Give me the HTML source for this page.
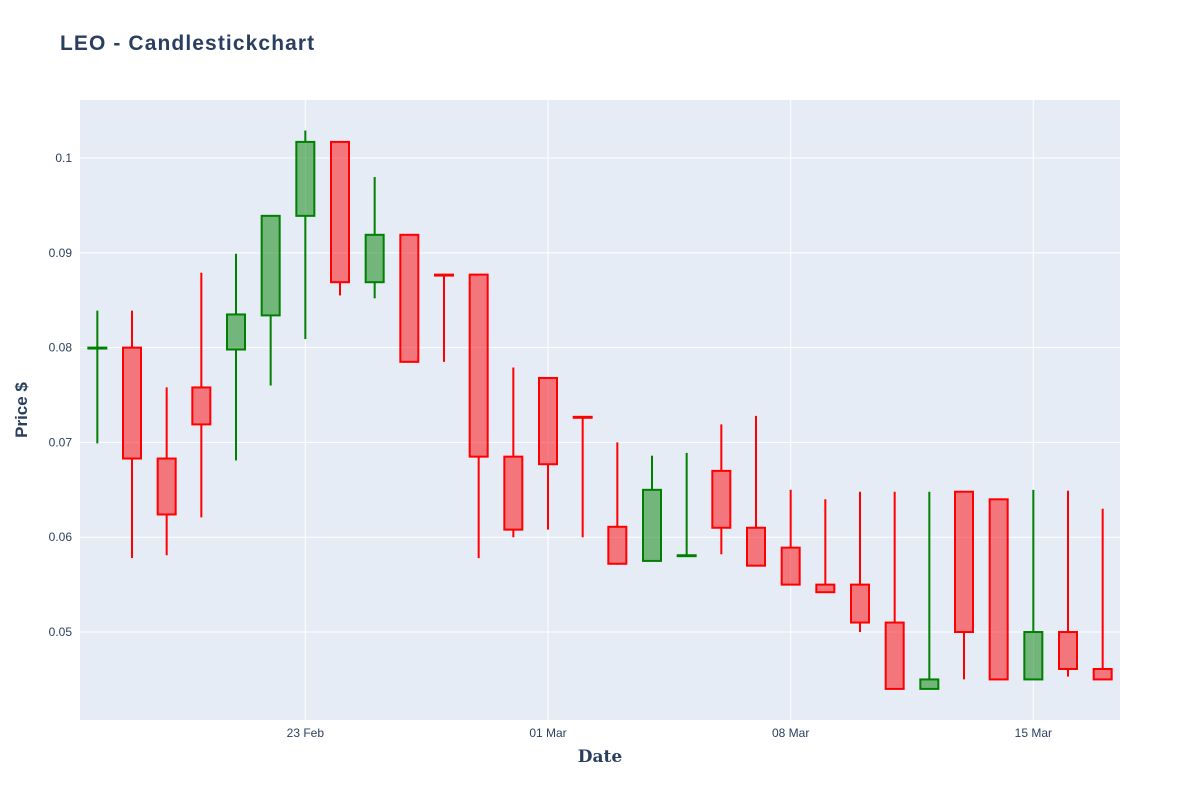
<!DOCTYPE html>
<html><head><meta charset="utf-8"><style>
body{margin:0;background:#fff;}
svg{display:block;font-family:"Liberation Sans",sans-serif;}
</style></head><body>
<svg id="chart" width="1200" height="800">
<rect x="0" y="0" width="1200" height="800" fill="#fff"/>
<rect x="80" y="100" width="1040" height="620" fill="#e5ecf6"/>
<g id="grid"></g>
<g id="marks"></g>
<g id="ticks"></g>
<text x="60" y="50" font-size="21" font-weight="bold" fill="#2a3f5f" letter-spacing="1.1">LEO - Candlestickchart</text>
<text x="600" y="762" font-size="17" font-weight="bold" fill="#2a3f5f" text-anchor="middle" font-family="DejaVu Serif, serif">Date</text>
<text x="27" y="410" font-size="17" font-weight="bold" fill="#2a3f5f" text-anchor="middle" transform="rotate(-90 27 410)">Price $</text>
</svg>
<script>
const opens  = [0.0799,0.0800,0.0683,0.0758,0.0798,0.0834,0.0939,0.1017,0.0869,0.0919,0.0877,0.0877,0.0685,0.0768,0.0727,0.0611,0.0575,0.0580,0.0670,0.0610,0.0589,0.0550,0.0550,0.0510,0.0440,0.0648,0.0640,0.0450,0.0500,0.0461];
const highs  = [0.0839,0.0839,0.0758,0.0879,0.0899,0.0939,0.1029,0.1017,0.0980,0.0919,0.0877,0.0877,0.0779,0.0768,0.0727,0.0700,0.0686,0.0689,0.0719,0.0728,0.0650,0.0640,0.0648,0.0648,0.0648,0.0648,0.0640,0.0650,0.0649,0.0630];
const lows   = [0.0699,0.0578,0.0581,0.0621,0.0681,0.0760,0.0809,0.0855,0.0852,0.0785,0.0785,0.0578,0.0600,0.0608,0.0600,0.0571,0.0575,0.0580,0.0582,0.0570,0.0550,0.0542,0.0500,0.0440,0.0440,0.0450,0.0450,0.0450,0.0453,0.0450];
const closes = [0.0800,0.0683,0.0624,0.0719,0.0835,0.0939,0.1017,0.0869,0.0919,0.0785,0.0876,0.0685,0.0608,0.0677,0.0726,0.0572,0.0650,0.0581,0.0610,0.0570,0.0550,0.0542,0.0510,0.0440,0.0450,0.0500,0.0450,0.0500,0.0461,0.0450];
const yTicks = [0.05,0.06,0.07,0.08,0.09,0.1];
const yTickLabels = ["0.05","0.06","0.07","0.08","0.09","0.1"];
const xTickIdx = [6,13,20,27];
const xTickLabels = ["23 Feb","01 Mar","08 Mar","15 Mar"];

const NS="http://www.w3.org/2000/svg";
const L=80,R=1120,T=100,B=720;
const yMin=0.04072,yMax=0.10612,xMin=-0.5,xMax=29.5;
const xs=i=>L+(i-xMin)/(xMax-xMin)*(R-L);
const ys=v=>B-(v-yMin)/(yMax-yMin)*(B-T);
function mk(tag,attrs,parent){const e=document.createElementNS(NS,tag);for(const k in attrs)e.setAttribute(k,attrs[k]);parent.appendChild(e);return e;}
const grid=document.getElementById('grid'),marks=document.getElementById('marks'),ticks=document.getElementById('ticks');
yTicks.forEach((v,i)=>{
  const g=mk('line',{x1:L,x2:R,y1:ys(v),y2:ys(v),stroke:'#fff','stroke-width':1},grid);
  
  
  const t=mk('text',{x:L-8,y:ys(v)+4,'font-size':12,fill:'#2a3f5f','text-anchor':'end'},ticks);
  t.textContent=yTickLabels[i];
  
  
});
xTickIdx.forEach((d,i)=>{
  const g=mk('line',{x1:xs(d),x2:xs(d),y1:T,y2:B,stroke:'#fff','stroke-width':1},grid);
  
  
  const t=mk('text',{x:xs(d),y:B+17,'font-size':12,fill:'#2a3f5f','text-anchor':'middle'},ticks);
  t.textContent=xTickLabels[i];
  
  
});
const bw=18;
opens.forEach((o,i)=>{
  const c=closes[i],up=c>=o;
  const col=up?'#008000':'#ff0000',fill=up?'rgba(0,128,0,0.5)':'rgba(255,0,0,0.5)';
  const g=mk('g',{},marks);
  
  
  const x=xs(i),top=ys(Math.max(o,c)),bot=ys(Math.min(o,c));
  mk('line',{x1:x,x2:x,y1:ys(highs[i]),y2:top,stroke:col,'stroke-width':2},g);
  mk('line',{x1:x,x2:x,y1:bot,y2:ys(lows[i]),stroke:col,'stroke-width':2},g);
  mk('rect',{x:x-bw/2,y:top,width:bw,height:Math.max(bot-top,0.5),fill:fill,stroke:col,'stroke-width':2},g);
});
</script>
</body></html>
